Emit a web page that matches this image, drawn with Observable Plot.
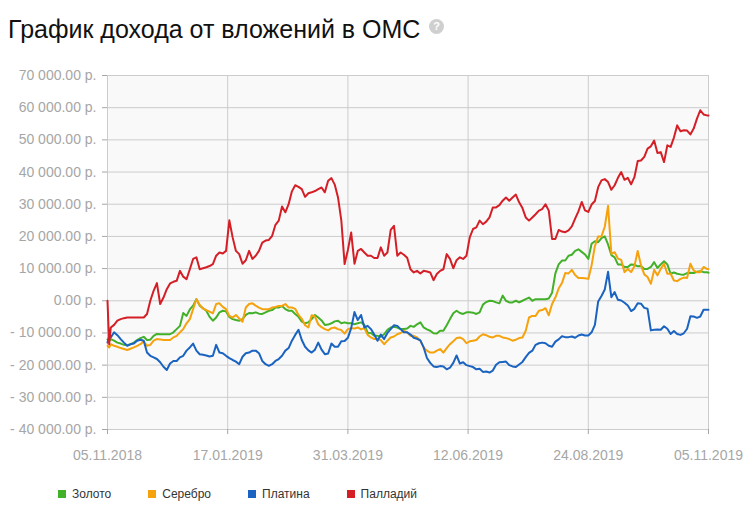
<!DOCTYPE html>
<html>
<head>
<meta charset="utf-8">
<script src="https://cdn.jsdelivr.net/npm/d3@7"></script>
<script src="https://cdn.jsdelivr.net/npm/@observablehq/plot@0.6"></script>
<style>
  html, body { margin: 0; padding: 0; background: #fff; }
  body { width: 754px; height: 525px; position: relative; overflow: hidden; font-family: "Liberation Sans", Arial, sans-serif; }
  #title { position: absolute; left: 8px; top: 17px; font-size: 25px; line-height: 25px; color: #111; white-space: nowrap; }
  #help { position: absolute; left: 429px; top: 19px; width: 15px; height: 15px; border-radius: 50%; background: #cfcfcf; color: #fff; font-size: 11px; font-weight: bold; line-height: 15px; text-align: center; }
  #chart { position: absolute; left: 0; top: 50px; }
  #legend { position: absolute; left: 58px; top: 487px; display: flex; font-size: 12px; color: #333; }
  .item { display: flex; align-items: center; margin-right: 37px; line-height: 14px; }
  .sw { width: 8px; height: 8px; margin-right: 6px; }
</style>
</head>
<body>
<div id="title">График дохода от вложений в ОМС</div>
<div id="help">?</div>
<div id="chart"></div>
<div id="legend"></div>
<script>
const seriesNames = ["Золото", "Серебро", "Платина", "Палладий"];
const seriesColors = ["#43b02a", "#f5a20d", "#1a63c0", "#d41f27"];

const dates = [
"2018-11-05","2018-11-06","2018-11-07","2018-11-09","2018-11-11","2018-11-13","2018-11-15","2018-11-17","2018-11-19","2018-11-21","2018-11-23","2018-11-25","2018-11-27","2018-11-29",
"2018-12-01","2018-12-03","2018-12-05","2018-12-07","2018-12-09","2018-12-11","2018-12-13","2018-12-15","2018-12-17","2018-12-19","2018-12-21","2018-12-23","2018-12-25","2018-12-27","2018-12-29","2018-12-31",
"2019-01-02","2019-01-04","2019-01-06","2019-01-08","2019-01-10","2019-01-12","2019-01-14","2019-01-16","2019-01-18","2019-01-20","2019-01-22","2019-01-24","2019-01-26","2019-01-28","2019-01-30",
"2019-02-01","2019-02-03","2019-02-05","2019-02-07","2019-02-09","2019-02-11","2019-02-13","2019-02-15","2019-02-17","2019-02-19","2019-02-21","2019-02-23","2019-02-25","2019-02-27",
"2019-03-01","2019-03-03","2019-03-05","2019-03-07","2019-03-09","2019-03-11","2019-03-13","2019-03-15","2019-03-17","2019-03-19","2019-03-21","2019-03-23","2019-03-25","2019-03-27","2019-03-29","2019-03-31",
"2019-04-02","2019-04-04","2019-04-06","2019-04-08","2019-04-10","2019-04-12","2019-04-14","2019-04-16","2019-04-18","2019-04-20","2019-04-22","2019-04-24","2019-04-26","2019-04-28","2019-04-30",
"2019-05-02","2019-05-04","2019-05-06","2019-05-08","2019-05-10","2019-05-12","2019-05-14","2019-05-16","2019-05-18","2019-05-20","2019-05-22","2019-05-24","2019-05-26","2019-05-28","2019-05-30",
"2019-06-01","2019-06-03","2019-06-05","2019-06-07","2019-06-09","2019-06-11","2019-06-13","2019-06-15","2019-06-17","2019-06-19","2019-06-21","2019-06-23","2019-06-25","2019-06-27","2019-06-29",
"2019-07-01","2019-07-03","2019-07-05","2019-07-07","2019-07-09","2019-07-11","2019-07-13","2019-07-15","2019-07-17","2019-07-19","2019-07-21","2019-07-23","2019-07-25","2019-07-27","2019-07-29","2019-07-31",
"2019-08-02","2019-08-04","2019-08-06","2019-08-08","2019-08-10","2019-08-12","2019-08-14","2019-08-16","2019-08-18","2019-08-20","2019-08-22","2019-08-24","2019-08-26","2019-08-28","2019-08-30",
"2019-09-01","2019-09-03","2019-09-05","2019-09-07","2019-09-09","2019-09-11","2019-09-13","2019-09-15","2019-09-17","2019-09-19","2019-09-21","2019-09-23","2019-09-25","2019-09-27","2019-09-29",
"2019-10-01","2019-10-03","2019-10-05","2019-10-07","2019-10-09","2019-10-11","2019-10-13","2019-10-15","2019-10-17","2019-10-19","2019-10-21","2019-10-23","2019-10-25","2019-10-27","2019-10-29","2019-10-31",
"2019-11-02","2019-11-04","2019-11-05"];

const gold = [-12000, -12500, -11900,
 -12400, -13000, -13300, -13700, -13800, -13500, -13000, -12200, -11600, -11200,
 -12200, -12100, -10900, -10300, -10400, -10400, -10400, -10400, -9800, -8800,
 -7800, -3800, -4700, -2700, -1500, 500, -1500, -2300, -3100, -5000,
 -6200, -5200, -3600, -3100, -3300, -5000, -5700, -6000, -6200, -5700,
 -4400, -3800, -3900, -3600, -4000, -4100, -3600, -3100, -2900, -2100,
 -2100, -1600, -2600, -3100, -3100, -4100, -5000, -6500, -7000, -6700,
 -5700, -4400, -5200, -6100, -7500, -7400, -7000, -6400, -6200, -7000,
 -6700, -7000, -7000, -7300, -7000, -6700, -7500, -9900, -10000, -10900,
 -10900, -11200, -10400, -9000, -8300, -8100, -8300, -8800, -8800, -8600,
 -7800, -8100, -7300, -6700, -8300, -8900, -9300, -10100, -10200, -9300,
 -9300, -7600, -5700, -3900, -3100, -3800, -4100, -3600, -3600, -3700,
 -4100, -3600, -1200, -400, 0, -100, -500, -800, 1600, 0,
 -500, -500, 0, -500, 0, 500, 1000, 0, 500, 500,
 500, 500, 700, 2500, 8500, 11300, 12500, 12500, 14000, 14300,
 15500, 16000, 15200, 14400, 13000, 17700, 18500, 18200, 19500, 20000,
 17500, 14200, 13500, 11300, 11300, 10500, 10500, 11300, 11200, 10700,
 10800, 9900, 9900, 10500, 12000, 10200, 11300, 12300, 11300, 8400,
 8800, 8400, 8200, 8100, 8600, 8700, 8600, 9000, 9200, 8900,
 8900, 8700];

const silver = [-14000, -14500, -13500,
 -14000, -14300, -14700, -15000, -15300, -14900, -14500, -14000, -13500, -12600,
 -14000, -13700, -12400, -11900, -12000, -12200, -12200, -12200, -11400, -10900,
 -9800, -8800, -7000, -5700, -2600, 500, -1300, -2400, -2900, -3400,
 -3900, -1000, -800, -1900, -2600, -4700, -5200, -4400, -5500, -6500,
 -2100, -1000, -800, -1500, -2100, -2600, -2600, -2600, -2100, -1900,
 -1600, -1600, -1000, -2100, -2100, -2500, -4400, -5600, -7600, -8300,
 -4500, -4900, -7300, -8200, -8800, -9200, -8500, -8300, -8800, -9100,
 -10200, -8800, -8500, -8600, -8300, -8900, -8500, -10600, -11400, -11900,
 -11900, -12200, -13500, -12400, -11400, -11100, -10400, -10000, -9300, -9800,
 -10900, -10900, -11400, -12400, -14500, -15500, -16100, -16100, -15500, -15000,
 -16100, -14700, -13500, -12600, -11600, -11400, -11900, -13200, -12600, -12400,
 -12200, -11100, -10400, -10700, -11200, -11400, -10900, -10900, -11400, -11600,
 -11900, -12400, -12100, -11600, -11400, -9300, -5200, -4700, -4700, -3100,
 -2900, -2300, -4500, -1000, 1000, 3800, 5500, 8600, 8500, 9600,
 8000, 7100, 7100, 7000, 6800, 11000, 17000, 20000, 20000, 23000,
 29500, 14600, 15100, 13100, 12700, 8900, 9900, 8900, 10700, 15500,
 11000, 8200, 7400, 5300, 9600, 7900, 9900, 11500, 8400, 8400,
 6300, 6100, 6800, 7200, 7100, 11500, 9400, 8900, 8900, 10500,
 9900, 9900];

const platinum = [-13000, -11000, -11400,
 -9800, -10700, -11900, -13000, -14000, -13500, -13300, -12400, -12100, -12400,
 -16100, -17100, -17600, -18100, -19100, -20500, -21500, -19500, -18700, -18700,
 -17600, -17100, -15500, -14500, -13300, -15500, -16600, -16800, -17000, -17300,
 -17100, -13700, -16100, -16300, -17100, -17800, -18400, -18900, -19700, -17400,
 -16300, -16100, -15500, -15500, -16300, -18700, -19700, -20200, -19700, -18700,
 -18100, -17100, -15500, -14700, -12400, -10600, -9000, -12200, -14300, -15400,
 -16100, -15200, -13000, -15200, -16600, -16400, -13300, -14300, -14300, -12600,
 -12500, -11500, -8500, -3500, -6000, -4400, -8300, -7800, -8800, -10500,
 -12400, -10500, -11900, -10000, -8800, -7600, -7800, -8800, -9800, -9800,
 -10500, -11500, -11800, -12300, -14500, -17800, -19300, -20400, -20600, -20300,
 -20400, -21300, -20800, -19300, -17000, -19500, -19100, -20000, -20300, -20600,
 -21300, -21100, -22100, -22000, -22300, -21700, -19900, -19100, -19000, -18900,
 -20000, -20400, -20600, -19800, -19000, -17500, -16200, -15500, -13700, -13200,
 -13000, -13200, -14000, -14300, -12700, -12000, -11000, -11300, -11300, -11100,
 -11500, -10800, -10500, -10800, -10800, -9800, -7500, -200, 1500, 3500,
 9000, 1100, 2700, 300, 100, -600, -1500, -3200, -2500, -800,
 -900, -2200, -2500, -9200, -9000, -8900, -9000, -7900, -8700, -10300,
 -9400, -10300, -10600, -10100, -8700, -4800, -4900, -5300, -4900, -2800,
 -2800, -2800];

const palladium = [0, -13500, -8300,
 -7500, -6200, -5700, -5400, -5200, -5200, -5200, -5200, -5200, -5200,
 -4100, 0, 3100, 5500, -1000, 1000, 3600, 5400, 5900, 6200,
 9300, 7500, 6700, 9800, 13000, 13500, 9800, 10100, 10400, 10800,
 11400, 14000, 15000, 14700, 15500, 25000, 19700, 15500, 14500, 11500,
 12600, 15500, 13000, 14000, 15500, 18100, 18700, 18900, 20200, 23600,
 24900, 29300, 27500, 30000, 34000, 35900, 35400, 34700, 32300, 33400,
 33700, 34100, 34700, 35200, 33700, 37300, 38100, 36100, 32100, 25000,
 11400, 15800, 21200, 11500, 15500, 16100, 15000, 14000, 14000, 13300,
 13300, 16600, 14000, 15000, 22000, 23300, 14000, 15000, 14300, 13400,
 9800, 8800, 9300, 8500, 9300, 9100, 8800, 6400, 8300, 9300,
 9800, 14500, 13000, 10100, 12600, 13500, 13000, 14000, 19700, 22300,
 22800, 24900, 23800, 24600, 25900, 29000, 29000, 29700, 31100, 32100,
 31100, 32100, 33000, 30600, 28800, 25900, 24900, 25900, 26900, 28000,
 28500, 30000, 28000, 19200, 19200, 22000, 21500, 21300, 21900, 23100,
 25500, 27800, 30700, 28100, 27600, 29900, 31000, 35300, 37400, 37800,
 36900, 34500, 35900, 38200, 40000, 37600, 38200, 36200, 38400, 43400,
 43600, 44700, 47300, 48000, 49800, 45900, 46200, 43100, 48300, 47800,
 50700, 54500, 52700, 53000, 52900, 51700, 53500, 56600, 59200, 57900,
 57600, 57600];

const yTicks = [-40000, -30000, -20000, -10000, 0, 10000, 20000, 30000, 40000, 50000, 60000, 70000];
const xTickLabels = ["2018-11-05", "2019-01-17", "2019-03-31", "2019-06-12", "2019-08-24", "2019-11-05"];

const seriesValues = [gold, silver, platinum, palladium];
seriesValues.forEach((s, k) => {
  if (s.length !== dates.length) throw new Error("length mismatch " + seriesNames[k] + ": " + s.length + " vs " + dates.length);
});
const parse = d3.utcParse("%Y-%m-%d");
const xTicks = xTickLabels.map(parse);
const rows = [];
seriesNames.forEach((name, s) => {
  dates.forEach((d, i) => rows.push({series: name, date: parse(d), value: seriesValues[s][i]}));
});

const fmtNum = d3.format(",.2f");
const fmtY = v => (v < 0 ? "- " : "") + fmtNum(Math.abs(v)).replace(/,/g, " ") + " р.";
const fmtX = d3.utcFormat("%d.%m.%Y");

const chart = Plot.plot({
  width: 754,
  height: 420,
  marginLeft: 107,
  marginRight: 46,
  marginTop: 25,
  marginBottom: 41,
  style: {fontFamily: "'Liberation Sans', Arial, sans-serif", fontSize: "14px", background: "transparent", overflow: "visible"},
  x: {type: "utc", domain: [xTicks[0], xTicks[xTicks.length - 1]]},
  y: {domain: [-40000, 70000]},
  color: {domain: seriesNames, range: seriesColors},
  marks: [
    Plot.frame({fill: "#f9f9f9", stroke: null}),
    Plot.gridY(yTicks, {stroke: "#cccccc", strokeOpacity: 1}),
    Plot.gridX(xTicks, {stroke: "#cccccc", strokeOpacity: 1}),
    Plot.axisY(yTicks, {tickFormat: fmtY, tickSize: 5, tickPadding: 6, color: "#a6a6a6", label: null}),
    Plot.axisX(xTicks, {tickFormat: fmtX, tickSize: 5, tickPadding: 16, color: "#a6a6a6", label: null}),
    Plot.line(rows, {x: "date", y: "value", z: "series", stroke: "series", strokeWidth: 2, strokeLinejoin: "round"})
  ]
});
document.getElementById("chart").appendChild(chart);

const legend = document.getElementById("legend");
seriesNames.forEach((name, i) => {
  const item = document.createElement("div");
  item.className = "item";
  const sw = document.createElement("span");
  sw.className = "sw";
  sw.style.background = seriesColors[i];
  const label = document.createElement("span");
  label.textContent = name;
  item.appendChild(sw);
  item.appendChild(label);
  legend.appendChild(item);
});
</script>
</body>
</html>
